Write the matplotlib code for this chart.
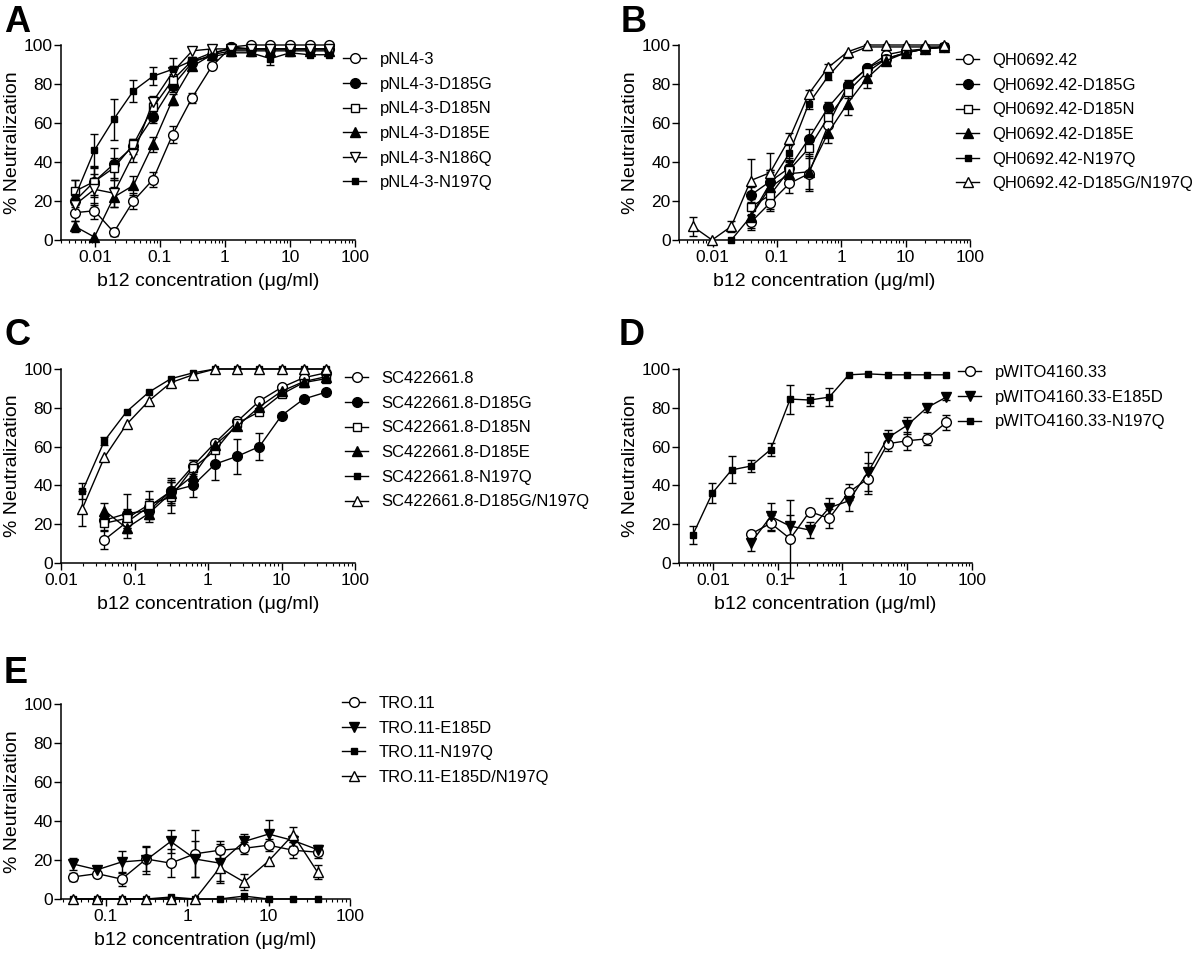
import numpy as np
import matplotlib.pyplot as plt
from matplotlib.ticker import LogLocator, FuncFormatter, NullFormatter, FixedLocator

plt.rcParams['font.family'] = ['Liberation Sans', 'DejaVu Sans']

########################################################
# Data (% neutralization, mean and error)

# two-fold b12 dilution series, ug/ml
conc = [0.0049, 0.0098, 0.0195, 0.039, 0.078, 0.156, 0.3125, 0.625, 1.25, 2.5, 5, 10, 20, 40]

a_names = ["pNL4-3", "pNL4-3-D185G", "pNL4-3-D185N", "pNL4-3-D185E", "pNL4-3-N186Q", "pNL4-3-N197Q"]
a_vals = [
    [14, 15, 4, 20, 31, 54, 73, 89, 99, 100, 100, 100, 100, 100],
    [20, 30, 39, 48, 63, 79, 91, 95, 99, 98, 98, 98, 98, 98],
    [25, 30, 37, 49, 68, 82, 92, 96, 98, 98, 98, 98, 98, 98],
    [7, 1.5, 22, 28, 49, 72, 89, 95, 97, 97, 97, 97, 97, 97],
    [18, 26, 24, 44, 71, 86, 97, 98, 98, 98, 98, 98, 98, 98],
    [22, 46, 62, 76.5, 84, 87.5, 92, 94, 96, 96, 93, 96, 95, 95],
]
a_errs = [
    [4, 4, 2, 4, 4, 4.5, 2.5, 0, 0, 0, 0, 0, 0, 0],
    [3, 8, 8, 4, 3, 3, 0, 0, 0, 0, 0, 0, 0, 0],
    [6, 7, 5, 3, 3, 3, 0, 0, 0, 0, 0, 0, 0, 0],
    [3, 0, 5, 5, 4, 3, 2, 0, 0, 0, 0, 0, 0, 0],
    [3, 8, 7, 4, 3, 3, 0, 0, 0, 0, 0, 0, 0, 0],
    [9, 8.5, 10.5, 5.5, 4.5, 6, 2, 1.5, 0, 0, 3.5, 0, 0, 0],
]

b_names = ["QH0692.42", "QH0692.42-D185G", "QH0692.42-D185N", "QH0692.42-D185E",
           "QH0692.42-N197Q", "QH0692.42-D185G/N197Q"]
b_vals = [
    [9, 19, 29, 34, 59, 79, 88, 95, 97, 98, 99],
    [23, 30, 37, 52, 68, 79.5, 88, 93, 96, 98, 99],
    [17, 23, 36, 47, 63, 76, 86, 93, 96, 98, 99],
    [12, 27, 34, 35, 55, 70, 83, 92, 96, 98, 99],
    [0, 12, 29, 44.5, 70, 84, 95, 99, 99, 99, 99, 99],
    [7, 0, 7, 30.5, 34.5, 52, 75, 88.5, 96.5, 100, 100, 100, 100, 100],
]
b_errs = [
    [4, 4, 5, 9, 6, 3, 0, 0, 0, 0, 0],
    [4, 6, 5, 5, 3, 0, 0, 0, 0, 0, 0],
    [4, 7, 5, 5, 3, 3, 2, 0, 0, 0, 0],
    [4, 9, 6, 9, 5, 6, 5, 0, 0, 0, 0],
    [0, 6, 6, 4, 3, 2, 0, 0, 0, 0, 0, 0],
    [5, 0, 3, 11, 10, 3, 2, 2, 0, 0, 0, 0, 0, 0],
]

c_names = ["SC422661.8", "SC422661.8-D185G", "SC422661.8-D185N", "SC422661.8-D185E",
           "SC422661.8-N197Q", "SC422661.8-D185G/N197Q"]
c_vals = [
    [12, 21, 29, 37, 50, 62, 73, 83.5, 90.5, 95.5, 98],
    [22, 25.5, 27, 37, 40, 51, 55, 60, 76, 84.5, 88],
    [20.5, 23, 30, 34, 49, 58, 72, 78, 87, 93, 95],
    [27, 18, 25.5, 36, 45, 61, 70.5, 80.5, 88.5, 93.5, 96],
    [37, 63, 78, 88, 95, 98, 100, 100, 100, 100, 100, 100],
    [28, 54.5, 71.5, 83.5, 93, 97, 100, 100, 100, 100, 100, 100],
]
c_errs = [
    [5, 3, 4, 6, 3, 0, 0, 0, 0, 0, 0],
    [3, 10, 6, 7, 6, 8, 9, 7, 0, 0, 0],
    [4, 5, 7, 8, 4, 0, 0, 0, 0, 0, 0],
    [4, 5, 3, 6, 5, 0, 0, 0, 0, 0, 0],
    [4, 2, 0, 0, 0, 0, 0, 0, 0, 0, 0, 0],
    [9, 0, 0, 0, 0, 0, 0, 0, 0, 0, 0, 0],
]

d_names = ["pWITO4160.33", "pWITO4160.33-E185D", "pWITO4160.33-N197Q"]
d_vals = [
    [15, 20.5, 12.5, 26.5, 23, 36.5, 43.5, 61.5, 63, 64, 72.5],
    [10.5, 24, 19, 17, 28.5, 32, 47, 64.5, 71, 80, 85.5],
    [14.5, 36, 48, 50, 58.5, 84.5, 84, 85.5, 97, 97.5, 97, 97, 97, 97],
]
d_errs = [
    [1.5, 4, 20, 1.5, 5, 4, 8, 4, 4.5, 3, 4],
    [4.5, 7, 6, 4, 5, 5, 10, 4, 4.5, 2, 1.5],
    [4.5, 5, 7, 3, 3.5, 7.5, 3, 4.5, 0, 0, 0, 0, 0, 0],
]

e_names = ["TRO.11", "TRO.11-E185D", "TRO.11-N197Q", "TRO.11-E185D/N197Q"]
e_vals = [
    [11.3, 13, 10.2, 20.5, 18.4, 23.2, 25, 26, 27.6, 25, 24],
    [18, 15, 19, 20, 29.5, 20.5, 18.4, 29.5, 33.3, 30, 25.3],
    [0, 0, 0, 0, 1, 0, 0, 1.5, 0, 0, 0],
    [0, 0, 0, 0, 0, 0, 16, 8.7, 19.5, 33, 13.7],
]
e_errs = [
    [2, 1.5, 3.5, 6, 7, 12, 5, 3, 3, 4, 3],
    [3, 1, 5.5, 7, 6, 9, 10, 4, 7, 3, 2.5],
    [0, 0, 0, 0, 0, 0, 0, 0, 0, 0, 0],
    [0, 0, 0, 0, 0, 0, 7, 4, 0, 4, 3.5],
]

########################################################
# Symbol styles: (marker, size, filled)
OC = ('o', 7, False)
FC = ('o', 7, True)
OS = ('s', 5.8, False)
FS = ('s', 5, True)
FT = ('^', 7, True)
OT = ('^', 7, False)
FV = ('v', 7, True)
OV = ('v', 7, False)

W, H = 1200, 958
fig = plt.figure(figsize=(W / 100, H / 100), dpi=100)


def px_axes(left, top, right, bottom):
    return fig.add_axes([left / W, 1 - bottom / H, (right - left) / W, (bottom - top) / H])


def draw_panel(box, names, vals, errs, styles, xlim, letter, letter_xy, legend_xy):
    ax = px_axes(*box)
    for name, y, e, st in zip(names, vals, errs, styles):
        x = np.array(conc[-len(y):])
        y = np.array(y, dtype=float)
        e = np.array(e, dtype=float)
        m = e > 0
        if m.any():
            ax.errorbar(x[m], y[m], yerr=e[m], fmt='none', ecolor='black', elinewidth=1,
                        capsize=3.2, capthick=1, zorder=2, clip_on=False)
        ax.plot(x, y, color='black', lw=1, marker=st[0], ms=st[1],
                mfc='black' if st[2] else 'white', mec='black', mew=1,
                label=name, zorder=3, clip_on=False)

    ax.set_xscale('log')
    ax.set_xlim(*xlim)
    ax.set_ylim(0, 100)
    ax.set_yticks([0, 20, 40, 60, 80, 100])
    ax.xaxis.set_major_locator(FixedLocator([0.01, 0.1, 1, 10, 100]))
    ax.xaxis.set_major_formatter(FuncFormatter(lambda v, p: f'{v:g}'))
    ax.xaxis.set_minor_locator(LogLocator(base=10, subs=np.arange(2, 10), numticks=20))
    ax.xaxis.set_minor_formatter(NullFormatter())

    for s in ['top', 'right']:
        ax.spines[s].set_visible(False)
    for s in ['left', 'bottom']:
        ax.spines[s].set_linewidth(1.1)
    ax.tick_params(which='major', direction='out', length=5, width=1, labelsize=12.5)
    ax.tick_params(axis='x', which='major', pad=2)
    ax.tick_params(axis='y', which='major', pad=1)
    ax.tick_params(which='minor', direction='out', length=2.5, width=0.8)

    ax.set_ylabel('% Neutralization', fontsize=14, labelpad=2)
    ax.set_xlabel('b12 concentration (\u03bcg/ml)', fontsize=14, labelpad=6)

    fig.text(letter_xy[0] / W, 1 - letter_xy[1] / H, letter, fontsize=26,
             fontweight='bold', ha='left', va='baseline')

    ax.legend(loc='upper left', bbox_to_anchor=(legend_xy[0] / W, 1 - (legend_xy[1] - 10) / H),
              bbox_transform=fig.transFigure, frameon=False, fontsize=12,
              handlelength=1.4, handletextpad=0.8, labelspacing=0.58,
              borderpad=0, borderaxespad=0, numpoints=1)
    return ax


draw_panel((61, 45, 355, 240), a_names, a_vals, a_errs, [OC, FC, OS, FT, OV, FS],
           (0.003, 100), 'A', (4, 32), (343, 62))
draw_panel((679, 45, 970, 240), b_names, b_vals, b_errs, [OC, FC, OS, FT, FS, OT],
           (0.003, 100), 'B', (621, 32), (956, 63))
draw_panel((61, 369, 355, 563), c_names, c_vals, c_errs, [OC, FC, OS, FT, FS, OT],
           (0.01, 100), 'C', (4, 345), (345, 381))
draw_panel((679, 369, 972, 563), d_names, d_vals, d_errs, [OC, FV, FS],
           (0.003, 100), 'D', (619, 345), (958, 375))
draw_panel((61, 704, 350, 899), e_names, e_vals, e_errs, [OC, FV, FS, OT],
           (0.028, 100), 'E', (4, 683), (342, 706))

fig.savefig('out.png', dpi=100)
